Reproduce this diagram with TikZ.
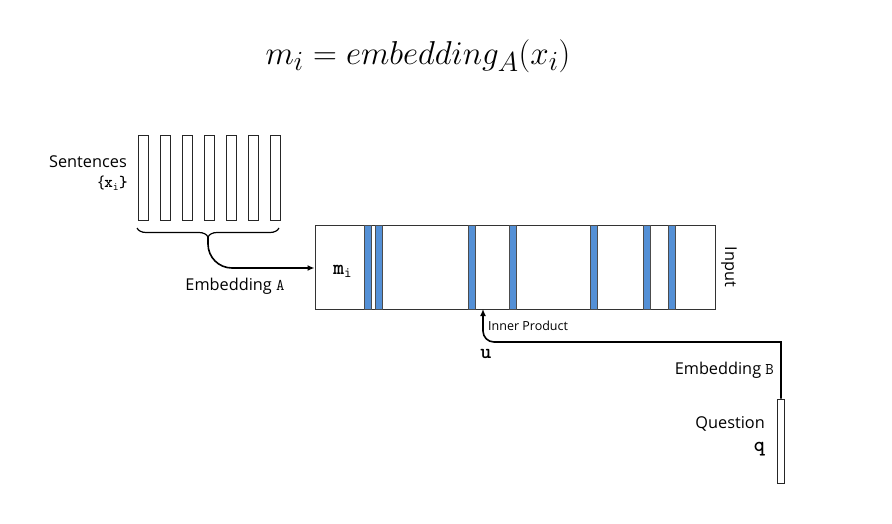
\documentclass[tikz,border=0pt]{standalone}
\usepackage{fontspec}
\setsansfont{Open Sans}
\usetikzlibrary{positioning}
\usetikzlibrary{arrows.meta}
\usetikzlibrary{decorations.pathreplacing}
\definecolor{slotblue}{RGB}{84,144,214}
\tikzset{
    sentbar/.style = {rectangle, draw=black!85, line width=0.9pt, minimum width=10pt, minimum height=85pt, inner sep=0pt},
    memrect/.style = {rectangle, draw=black!80, line width=1pt, minimum width=400pt, minimum height=84pt, inner sep=0pt},
    slot/.style = {rectangle, draw=black!70, line width=0.8pt, fill=slotblue, minimum width=7pt, minimum height=84pt, inner sep=0pt},
    qbar/.style = {rectangle, draw=black!85, line width=0.9pt, minimum width=7pt, minimum height=84pt, inner sep=0pt},
    lbl/.style = {font=\sffamily\fontsize{16.3}{18}\selectfont, inner sep=0pt},
    slbl/.style = {font=\sffamily\fontsize{12.5}{14}\selectfont, inner sep=0pt},
    ttl/.style = {font=\ttfamily\bfseries\fontsize{21}{23}\selectfont, inner sep=0pt},
    edgen/.style = {-{Latex[length=7pt,width=6pt]}, line width=1.6pt},
    bracen/.style = {decorate, decoration={brace, amplitude=9pt}, line width=1.2pt}
}
\begin{document}
\begin{tikzpicture}[x=1pt,y=-1pt]
\useasboundingbox (0,0) rectangle (892,524);
%
\node[font=\fontsize{24.88}{28}\selectfont, scale=1.33, inner sep=0pt] at (418,56) (eq) {$m_i = embedding_A(x_i)$};
%
\foreach \k in {0,...,6}
  \node[sentbar] at (143+22*\k,177.5) (s\k) {};
\node[lbl, anchor=east] at (127,162) (sent) {Sentences};
\node[lbl, anchor=east] at (128,183) (xi) {\{\ttfamily\bfseries x$_{\mathtt{i}}$\}};
%
\node[memrect] at (515,267) (mem) {};
\foreach \x in {368,379,472,513,594,647,672}
  \node[slot] at (\x,267) {};
\node[ttl, anchor=west] at (333,271) (mi) {m$_{\mathtt{i}}$};
\node[lbl, rotate=-90] at (729,267) (inp) {Input};
%
\node[qbar] at (781,441) (q) {};
\node[lbl, anchor=east] at (765,424) (ques) {Question};
\node[ttl, anchor=east] at (765,449) (ql) {q};
\node[lbl, anchor=east] at (774,370) (embB) {Embedding \texttt{B}};
\node[lbl, anchor=center] at (235,286) (embA) {Embedding \texttt{A}};
\node[ttl] at (486,354) (u) {u};
\node[slbl, anchor=west] at (488,326) (ip) {Inner Product};
%
\coordinate (br) at (279,228);
\coordinate (bl) at (137,228);
\coordinate (bt) at (208,237);
\coordinate (ipt) at (483,309);
\draw[bracen] (br) -- (bl);
%
\draw[edgen, rounded corners=24pt] (bt) -- (208,268) -- (mem.west |- 0,268);
\draw[edgen] (q.north) -- (q.north |- 0,342) [rounded corners=11pt] -- (ipt |- 0,342) -- (ipt);
\end{tikzpicture}
\end{document}
